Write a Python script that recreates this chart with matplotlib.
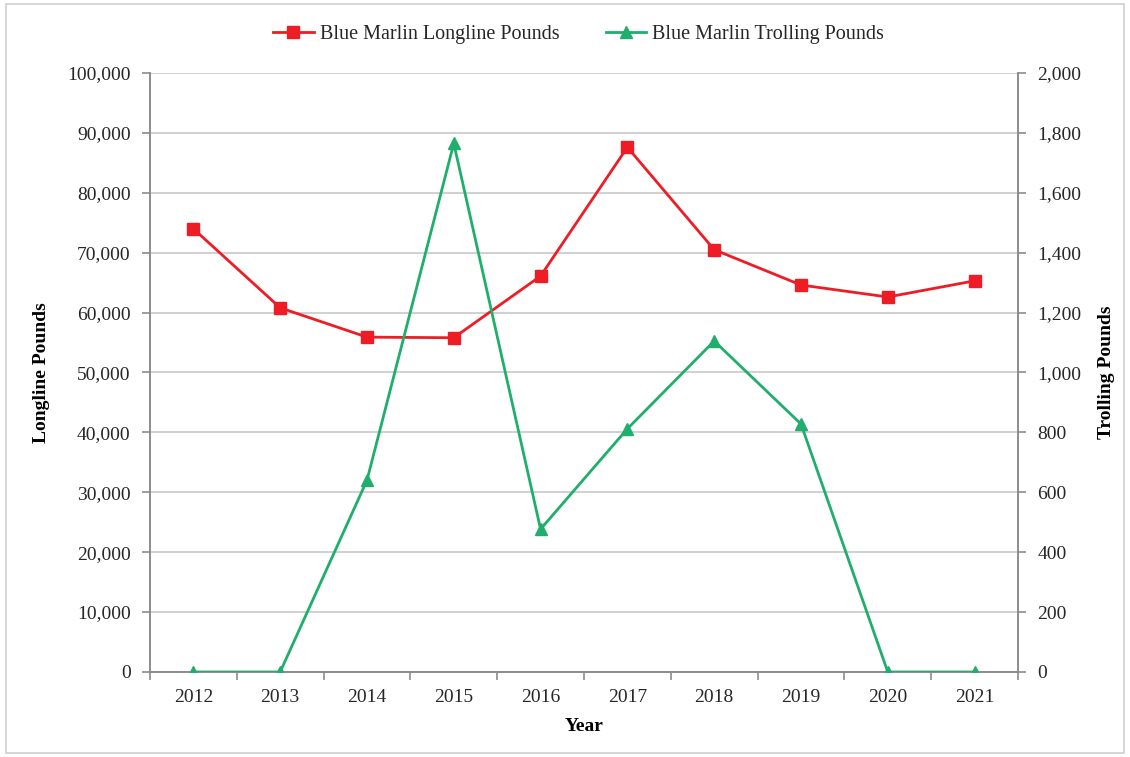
import matplotlib.pyplot as plt
from matplotlib.ticker import FuncFormatter, FixedLocator
from matplotlib.patches import Rectangle

# Chart data
years = ['2012', '2013', '2014', '2015', '2016', '2017', '2018', '2019', '2020', '2021']
longline_pounds = [74000, 60800, 55900, 55800, 66100, 87600, 70500, 64600, 62600, 65300]
trolling_pounds = [0, 0, 640, 1765, 477, 812, 1105, 828, 0, 0]

plt.rcParams['font.family'] = ['Liberation Serif', 'DejaVu Serif']
axis_grey = '#8c8c8c'
text_grey = '#262626'
red = '#ee1c25'
green = '#1fae6b'

fig = plt.figure(figsize=(11.3, 7.57), dpi=100)
ax = fig.add_axes([0.1327, 0.1123, 0.7682, 0.7913])
ax2 = ax.twinx()

x = list(range(len(years)))

l1, = ax.plot(x, longline_pounds, color=red, marker='s', markersize=8, linewidth=2,
              label='Blue Marlin Longline Pounds', zorder=3)
l2, = ax2.plot(x, trolling_pounds, color=green, marker='^', markersize=8, linewidth=2,
               label='Blue Marlin Trolling Pounds', zorder=3)

# Left axis
ax.set_ylim(0, 100000)
ax.set_yticks(range(0, 100001, 10000))
ax.yaxis.set_major_formatter(FuncFormatter(lambda v, p: f'{int(v):,}'))
ax.grid(axis='y', color='#c8c8c8', linewidth=1.2)
ax.set_axisbelow(True)

# Right axis
ax2.set_ylim(0, 2000)
ax2.set_yticks(range(0, 2001, 200))
ax2.yaxis.set_major_formatter(FuncFormatter(lambda v, p: f'{int(v):,}'))

# Category x axis with ticks between categories
ax.set_xlim(-0.5, len(years) - 0.5)
ax.set_xticks(x)
ax.set_xticklabels(years)
ax.xaxis.set_minor_locator(FixedLocator([i - 0.5 for i in range(len(years) + 1)]))
ax.tick_params(axis='x', which='major', length=0, pad=12, labelcolor=text_grey)
ax.tick_params(axis='x', which='minor', length=6, color=axis_grey, width=1.2)

for a in (ax, ax2):
    a.spines['top'].set_visible(False)
    for s in ('left', 'right', 'bottom'):
        a.spines[s].set_color(axis_grey)
        a.spines[s].set_linewidth(1.2)
    a.tick_params(axis='y', length=6, color=axis_grey, width=1.2, labelsize=14, pad=8,
                  labelcolor=text_grey)
ax.tick_params(axis='x', labelsize=14)

ax.set_xlabel('Year', fontsize=14, fontweight='bold', labelpad=9)
ax.set_ylabel('Longline Pounds', fontsize=14, fontweight='bold', labelpad=12)
ax2.set_ylabel('Trolling Pounds', fontsize=14, fontweight='bold', labelpad=12, rotation=90)

leg = fig.legend(handles=[l1, l2], loc='center', bbox_to_anchor=(0.512, 0.955), ncol=2,
                 frameon=False, fontsize=14.5, handlelength=2.0, handletextpad=0.3,
                 columnspacing=2.3)
for t in leg.get_texts():
    t.set_color(text_grey)

# Light outer border around the chart
fig.patches.append(Rectangle((0.005, 0.005), 0.99, 0.99, transform=fig.transFigure,
                             fill=False, edgecolor='#d0d0d0', linewidth=1.2))

fig.savefig('out.png', dpi=100)
